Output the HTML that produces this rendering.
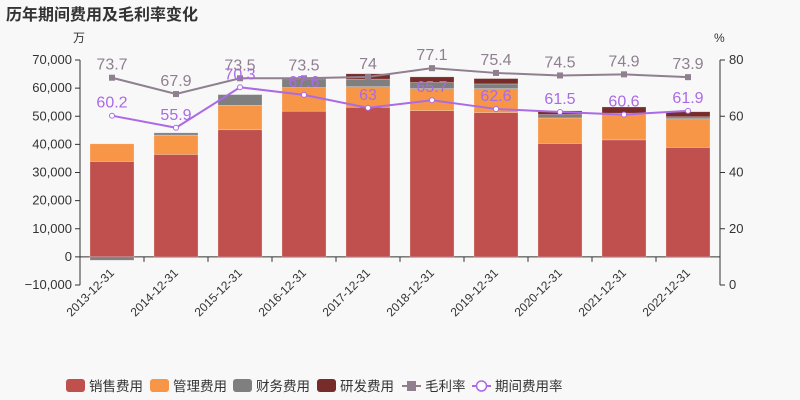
<!DOCTYPE html>
<html><head><meta charset="utf-8"><style>
body{margin:0;background:#f8f8f8;font-family:"Liberation Sans","Noto Sans CJK SC",sans-serif}
svg{display:block}
</style></head><body>
<svg id="c" width="800" height="400" xmlns="http://www.w3.org/2000/svg">
<rect width="800" height="400" fill="#f8f8f8"/>
<text x="6" y="20" font-size="16" font-weight="bold" fill="#333">历年期间费用及毛利率变化</text>
<text x="73" y="42" font-size="12" fill="#333">万</text>
<text x="714" y="42" font-size="12" fill="#333">%</text>
<g id="g"></g>
</svg>
<script>
const categories=["2013-12-31","2014-12-31","2015-12-31","2016-12-31","2017-12-31","2018-12-31","2019-12-31","2020-12-31","2021-12-31","2022-12-31"];
const sales=[33900,36400,45200,51800,53200,52000,51300,40300,41600,38900];
const mgmt=[6300,6900,8700,8400,7300,7800,8500,9100,9200,10200];
const fin=[-1200,800,3800,3100,2700,2200,1700,1200,300,700];
const rnd=[0,0,0,300,1900,2000,1900,1300,2200,1800];
const gross=[73.7,67.9,73.5,73.5,74,77.1,75.4,74.5,74.9,73.9];
const period=[60.2,55.9,70.3,67.6,63,65.7,62.6,61.5,60.6,61.9];
const leftTicks=[-10000,0,10000,20000,30000,40000,50000,60000,70000];
const rightTicks=[0,20,40,60,80];
const NS="http://www.w3.org/2000/svg",g=document.getElementById('g');
const X0=80,X1=720,YT=60,YB=285;
const yL=v=>YB-(v+10000)/80000*(YB-YT);
const yR=v=>YB-v/80*(YB-YT);
const bw=(X1-X0)/categories.length;
const xc=i=>X0+bw*(i+0.5);
function el(t,a,txt){const e=document.createElementNS(NS,t);for(const k in a)e.setAttribute(k,a[k]);if(txt!=null)e.textContent=txt;g.appendChild(e);return e;}
let e=el('line',{x1:X0,y1:YT,x2:X0,y2:YB,stroke:'#333'});
e=el('line',{x1:X1,y1:YT,x2:X1,y2:YB,stroke:'#333'});
leftTicks.forEach(t=>{el('line',{x1:X0-5,x2:X0,y1:yL(t),y2:yL(t),stroke:'#333'});
e=el('text',{x:X0-8,y:yL(t)+4,'text-anchor':'end','font-size':13,fill:'#333'},t.toLocaleString('en-US').replace('-','−'));});
rightTicks.forEach(t=>{el('line',{x1:X1,x2:X1+5,y1:yR(t),y2:yR(t),stroke:'#333'});
e=el('text',{x:X1+9,y:yR(t)+4,'font-size':13,fill:'#333'},t);});
e=el('line',{x1:X0,x2:X1,y1:yL(0),y2:yL(0),stroke:'#333'});
categories.forEach((c,i)=>{const x=X0+bw*i;if(i>0)el('line',{x1:x,x2:x,y1:yL(0),y2:yL(0)+5,stroke:'#333'});
const cx=xc(i);e=el('text',{x:cx,y:yL(0)+18,'text-anchor':'end','font-size':12,fill:'#333',transform:`rotate(-45 ${cx} ${yL(0)+14})`},c);});
const series=[[sales,'#c0504d','sales'],[mgmt,'#f79646','mgmt'],[fin,'#7f7f7f','finance'],[rnd,'#772c2a','rnd']];
categories.forEach((c,i)=>{let pos=0,neg=0;series.forEach(([arr,col,n])=>{const v=arr[i];if(!v)return;let a,b;if(v>=0){a=pos;b=pos+v;pos=b;}else{a=neg;b=neg+v;neg=b;}
const y1=yL(Math.max(a,b)),y2=yL(Math.min(a,b));
const r=el('rect',{x:xc(i)-22,y:y1,width:44,height:Math.max(y2-y1,0.5),fill:col,stroke:'rgba(255,255,255,0.4)','stroke-width':0.6});
});});
function line(arr,col,name,square){const pts=arr.map((v,i)=>xc(i)+','+yR(v)).join(' ');
const p=el('polyline',{points:pts,fill:'none',stroke:col,'stroke-width':2});
arr.forEach((v,i)=>{let m;if(square)m=el('rect',{x:xc(i)-3,y:yR(v)-3,width:6,height:6,fill:col});else m=el('circle',{cx:xc(i),cy:yR(v),r:2.5,fill:'#fff',stroke:col,'stroke-width':1});

const t=el('text',{x:xc(i),y:yR(v)-8,'text-anchor':'middle','font-size':16,fill:col},v);});}
line(gross,'#8f7f8f','gross-margin',true);
line(period,'#ab6ae6','period-expense-rate',false);
const leg=[['销售费用','#c0504d',66,'r'],['管理费用','#f79646',150,'r'],['财务费用','#7f7f7f',233,'r'],['研发费用','#772c2a',317,'r'],['毛利率','#8f7f8f',402,'sq'],['期间费用率','#ab6ae6',472,'c']];
leg.forEach(([t,col,x,k])=>{let m;if(k==='r')m=el('rect',{x:x,y:379,width:19,height:13,rx:3,fill:col});
else{el('line',{x1:x,x2:x+19,y1:386,y2:386,stroke:col,'stroke-width':2});if(k==='sq')m=el('rect',{x:x+5,y:381,width:9,height:10,fill:col});else m=el('circle',{cx:x+9.5,cy:386,r:5,fill:'#fff',stroke:col,'stroke-width':1.5});}

const tx=el('text',{x:x+23,y:391,'font-size':13.5,fill:'#333'},t);});
</script>
</body></html>
